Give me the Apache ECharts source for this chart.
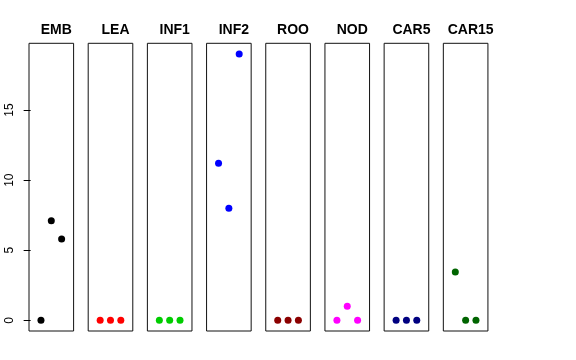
<!DOCTYPE html>
<html><head><meta charset="utf-8">
<script src="https://cdn.jsdelivr.net/npm/echarts@6/dist/echarts.min.js"></script>
<style>html,body{margin:0;padding:0;background:#fff}#c{width:576px;height:360px}</style>
</head><body><div id="c"></div>
<script>
const categories = ['EMB','LEA','INF1','INF2','ROO','NOD','CAR5','CAR15'];
const colors = ['#000000','#FF0000','#00CD00','#0000FF','#8B0000','#FF00FF','#000080','#006400'];
const xPositions = [1,2,3];
const values = {
  EMB:   [0, 7.1, 5.8],
  LEA:   [0, 0, 0],
  INF1:  [0, 0, 0],
  INF2:  [11.2, 8.0, 19.0],
  ROO:   [0, 0, 0],
  NOD:   [0, 1.0, 0],
  CAR5:  [0, 0, 0],
  CAR15: [3.45, 0, 0]
};
const yTicks = [0, 5, 10, 15];

const chart = echarts.init(document.getElementById('c'), null, {renderer:'canvas'});
const L0 = 29, STEP = 59.19, W = 44.6, TOP = 43.3, H = 287.7;
const grids = [], xAxes = [], yAxes = [], series = [], titles = [];
categories.forEach((cat, i) => {
  const left = L0 + i*STEP;
  grids.push({left: left, top: TOP, width: W, height: H, show: true, borderColor: '#111', borderWidth: 1, backgroundColor: 'transparent'});
  xAxes.push({type:'value', gridIndex:i, min:-0.16, max:4.16, show:false});
  yAxes.push({
    type:'value', gridIndex:i, min:-0.76, max:19.76, show: i===0,
    splitLine:{show:false},
    axisLine:{show:false},
    axisTick:{show:i===0, length:7, lineStyle:{color:'#000', width:1}, customValues: yTicks},
    axisLabel:{show:i===0, rotate:90, margin:13, color:'#000', fontSize:12, fontFamily:'Liberation Sans, Arial, sans-serif', customValues: yTicks}
  });
  series.push({
    type:'scatter', xAxisIndex:i, yAxisIndex:i, symbol:'circle', symbolSize:7,
    itemStyle:{color:colors[i], opacity:1}, clip:false, silent:true,
    data: xPositions.map((x,k)=>[x, values[cat][k]])
  });
  titles.push({
    text: cat, left: left + W/2, top: 18, textAlign:'center',
    textStyle:{fontSize:14, fontWeight:'bold', color:'#000', fontFamily:'Liberation Sans, Arial, sans-serif'}
  });
});
chart.setOption({
  animation:false,
  title: titles,
  grid: grids, xAxis: xAxes, yAxis: yAxes, series: series
});
</script></body></html>
